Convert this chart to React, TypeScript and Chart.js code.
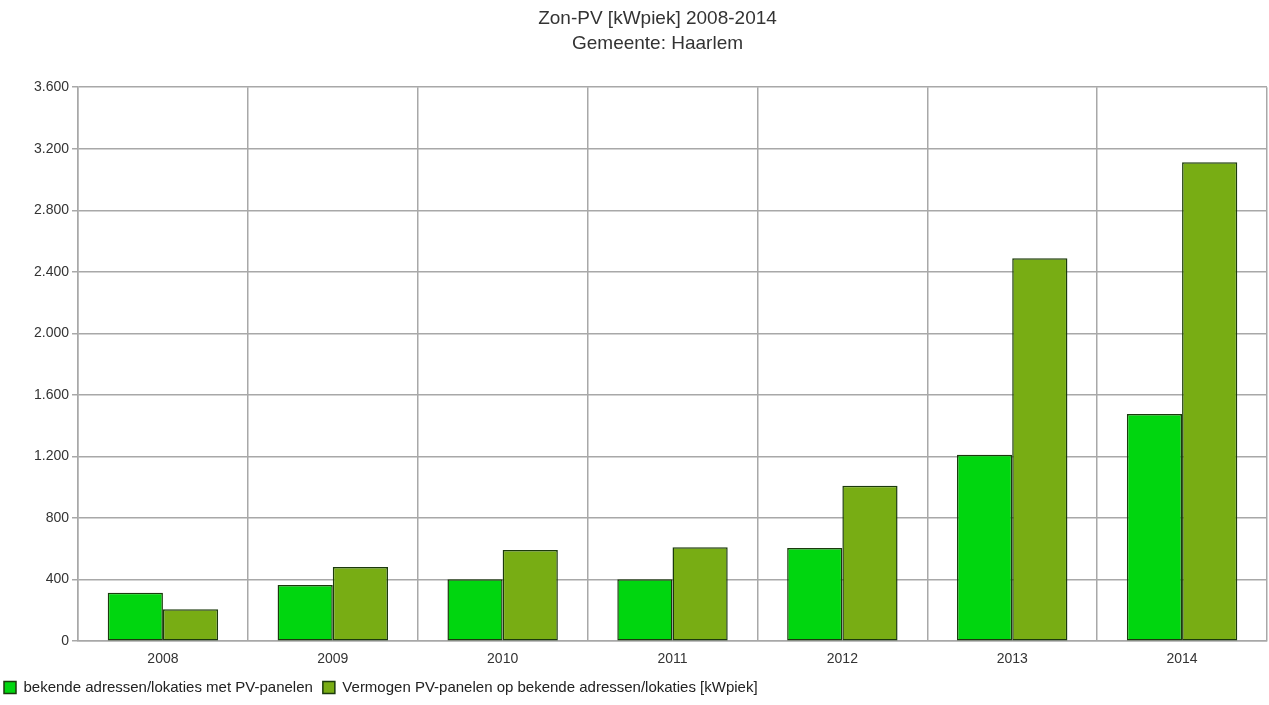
import React, { useEffect, useRef } from "react";
import { Chart, registerables } from "chart.js";

Chart.register(...registerables);

const years = ["2008", "2009", "2010", "2011", "2012", "2013", "2014"];
const adressen = [315, 365, 403, 403, 606, 1212, 1477];
const vermogen = [207, 482, 593, 610, 1010, 2489, 3112];
const seriesLabels = [
  "bekende adressen/lokaties met PV-panelen",
  "Vermogen PV-panelen op bekende adressen/lokaties [kWpiek]",
];
const titleLines = ["Zon-PV [kWpiek] 2008-2014", "Gemeente: Haarlem"];

const fmt = (v: number) => String(v).replace(/\B(?=(\d{3})+(?!\d))/g, ".");

const titleShift = {
  id: "titleShift",
  afterInit(chart: any) {
    const tb = chart.titleBlock;
    if (!tb) return;
    const orig = tb.draw.bind(tb);
    tb.draw = (...args: any[]) => {
      const c = chart.ctx;
      c.save();
      c.translate(27, 0);
      orig(...args);
      c.restore();
    };
  },
};

export default function App() {
  const ref = useRef<HTMLCanvasElement | null>(null);
  useEffect(() => {
    document.body.style.margin = "0";
    const ctx = ref.current!.getContext("2d")!;
    const font = "'Liberation Sans', Arial, sans-serif";
    const chart = new Chart(ctx, {
      type: "bar",
      data: {
        labels: years,
        datasets: [
          {
            label: seriesLabels[0],
            data: adressen,
            backgroundColor: "#00d60f",
            borderColor: "#1b3a0c",
            borderWidth: 1.5,
            borderSkipped: false,
          },
          {
            label: seriesLabels[1],
            data: vermogen,
            backgroundColor: "#78ad14",
            borderColor: "#1b3a0c",
            borderWidth: 1.5,
            borderSkipped: false,
          },
        ],
      },
      plugins: [titleShift],
      options: {
        responsive: false,
        animation: false,
        layout: { padding: { left: -6, right: 2, top: 0, bottom: 0 } },
        datasets: { bar: { categoryPercentage: 0.65, barPercentage: 1 } },
        plugins: {
          title: {
            display: true,
            text: titleLines,
            color: "#333",
            font: { family: font, size: 19, weight: "normal", lineHeight: 1.32 },
            padding: { top: 6, bottom: 31 },
          },
          legend: {
            position: "bottom",
            align: "start",
            labels: {
              boxWidth: 12,
              boxHeight: 12,
              color: "#222",
              font: { family: font, size: 15 },
              padding: 10,
            },
          },
          tooltip: { enabled: false },
        },
        scales: {
          x: {
            offset: true,
            afterFit: (s: any) => {
              s.height -= 8;
            },
            grid: {
              offset: true,
              color: "#a8a8a8",
              lineWidth: 1.5,
              drawTicks: false,
            },
            border: { color: "#a8a8a8", width: 1.5 },
            ticks: { color: "#333", font: { family: font, size: 14 }, padding: 10 },
          },
          y: {
            min: 0,
            max: 3600,
            afterFit: (s: any) => {
              s.width = 84;
            },
            ticks: {
              stepSize: 400,
              color: "#333",
              font: { family: font, size: 14 },
              padding: 3,
              callback: (v: any) => fmt(Number(v)),
            },
            grid: { color: "#a8a8a8", lineWidth: 1.5, tickLength: 6 },
            border: { color: "#a8a8a8", width: 1.5 },
          },
        },
      },
    });
    return () => chart.destroy();
  }, []);
  return (
    <div style={{ width: 1269, height: 705, background: "#fff" }}>
      <canvas ref={ref} width={1269} height={705} style={{ display: "block" }} />
    </div>
  );
}
